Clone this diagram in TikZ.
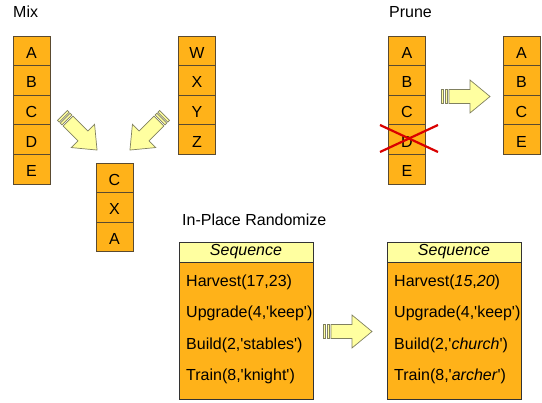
\documentclass[tikz,border=0pt]{standalone}
\usepackage{fontspec}
\setmainfont{Liberation Sans}
\definecolor{cellfill}{RGB}{255,178,25}
\definecolor{celldraw}{RGB}{90,74,48}
\definecolor{paleyel}{RGB}{255,255,160}
\definecolor{arrowdraw}{RGB}{128,128,96}
\newcommand\myq{\textquotesingle}
\newcommand\myfont{\fontsize{16}{19}\selectfont}
\tikzset{
  cell/.style={draw=celldraw, fill=cellfill, line width=0.8pt, minimum width=37pt, minimum height=29.6pt, inner sep=0pt, text height=15pt, text depth=0pt},
  arrowstyle/.style={draw=arrowdraw, fill=paleyel, line width=0.7pt, line join=miter},
  heading/.style={anchor=base west, inner sep=0pt},
  seqhead/.style={draw=black!80, fill=paleyel, line width=0.8pt, minimum width=134pt, minimum height=20pt, inner sep=0pt, font=\myfont\itshape},
  seqbody/.style={draw=black!80, fill=cellfill, line width=0.8pt, minimum width=134pt, minimum height=137pt, inner sep=0pt},
  seqline/.style={anchor=base west, inner sep=0pt},
  cross/.style={draw=red!85!black, line width=2.2pt}
}
\newcommand\fatarrow[3]{%
  \begin{scope}[shift={(#1,#2)},rotate=#3]
    \draw[arrowstyle] (0,-7) rectangle (2.5,7);
    \draw[arrowstyle] (4,-7) rectangle (6.5,7);
    \draw[arrowstyle] (8,-7) -- (29,-7) -- (29,-16.5) -- (49,0) -- (29,16.5) -- (29,7) -- (8,7) -- cycle;
  \end{scope}}
\begin{document}
\begin{tikzpicture}[x=1pt,y=-1pt,font=\myfont]
\useasboundingbox (0,0) rectangle (542,403);
% Headings
\node[heading] (hmix) at (13,18) {Mix};
\node[heading] (hprune) at (389,18) {Prune};
\node[heading] (hrand) at (182,226) {In-Place Randomize};
% Mix stacks
\foreach \t [count=\i] in {A,B,C,D,E}
  \node[cell] (ma\i) at (31.5,{36+29.6*\i-14.8}) {\t};
\foreach \t [count=\i] in {W,X,Y,Z}
  \node[cell] (mw\i) at (197,{36+29.6*\i-14.8}) {\t};
\foreach \t [count=\i] in {C,X,A}
  \node[cell] (mr\i) at (114.5,{163+29.6*\i-14.8}) {\t};
\fatarrow{62.4}{115.4}{-45}
\fatarrow{164.6}{115.4}{-135}
% Prune stacks
\foreach \t [count=\i] in {A,B,C,D,E}
  \node[cell] (pa\i) at (407,{36+29.6*\i-14.8}) {\t};
\foreach \t [count=\i] in {A,B,C,E}
  \node[cell] (pb\i) at (521.5,{36+29.6*\i-14.8}) {\t};
\draw[cross] (380,125) -- (438,152);
\draw[cross] (380,152) -- (438,125);
\fatarrow{441}{96.5}{0}
% Randomize
\node[seqbody] (lb) at (246,330.5) {};
\node[seqhead] (lh) at (246,252) {Sequence};
\node[seqbody] (rb) at (454,330.5) {};
\node[seqhead] (rh) at (454,252) {Sequence};
\node[seqline] (l1) at (186,287) {Harvest(17,23)};
\node[seqline] (l2) at (186,318) {Upgrade(4,\myq keep\myq)};
\node[seqline] (l3) at (186,350) {Build(2,\myq stables\myq)};
\node[seqline] (l4) at (186,381) {Train(8,\myq knight\myq)};
\node[seqline] (r1) at (394,287) {Harvest(\textit{15},\textit{20})};
\node[seqline] (r2) at (394,318) {Upgrade(4,\myq keep\myq)};
\node[seqline] (r3) at (394,350) {Build(2,\myq\textit{church}\myq)};
\node[seqline] (r4) at (394,381) {Train(8,\myq\textit{archer}\myq)};
\fatarrow{323}{331.5}{0}
\end{tikzpicture}
\end{document}
